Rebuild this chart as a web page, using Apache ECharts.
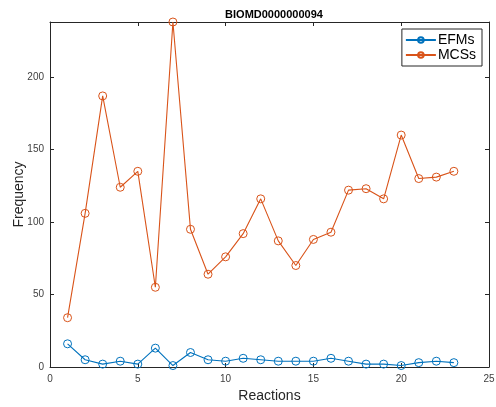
<!DOCTYPE html>
<html>
<head>
<meta charset="utf-8">
<script src="https://cdn.jsdelivr.net/npm/echarts@6/dist/echarts.min.js"></script>
<style>
  html, body { margin: 0; padding: 0; background: #fff; }
  #chart { width: 496px; height: 407px; }
</style>
</head>
<body>
<div id="chart"></div>
<script>
// Reaction indices 1..23 and per-reaction frequencies
const reactions = [1, 2, 3, 4, 5, 6, 7, 8, 9, 10, 11, 12, 13, 14, 15, 16, 17, 18, 19, 20, 21, 22, 23];
const efms = [16, 5, 2, 4, 2, 13, 1, 10, 5, 4, 6, 5, 4, 4, 4, 6, 4, 2, 2, 1, 3, 4, 3];
const mcss = [34, 106, 187, 124, 135, 55, 238, 95, 64, 76, 92, 116, 87, 70, 88, 93, 122, 123, 116, 160, 130, 131, 135];
const xTicks = [0, 5, 10, 15, 20, 25];
const yTicks = [0, 50, 100, 150, 200];

const chart = echarts.init(document.getElementById('chart'));
const axisColor = '#262626';
const font = 'Liberation Sans, Arial, Helvetica, sans-serif';

function pairs(ys) {
  return reactions.map((x, i) => [x, ys[i]]);
}

const baseX = {
  type: 'value', min: 0, max: 25, interval: 5,
  axisLine: { show: true, onZero: false, lineStyle: { color: axisColor, width: 1 } },
  axisTick: { show: true, inside: true, length: 4, lineStyle: { color: axisColor } },
  splitLine: { show: false }
};
const baseY = {
  type: 'value', min: 0, max: 238, interval: 50,
  axisLine: { show: true, onZero: false, lineStyle: { color: axisColor, width: 1 } },
  axisTick: { show: true, inside: true, length: 4, lineStyle: { color: axisColor } },
  splitLine: { show: false }
};

// hollow circle markers, the connecting line shows through them
function lineSeries(name, values, color) {
  return {
    name: name, type: 'line', data: pairs(values),
    xAxisIndex: 0, yAxisIndex: 0,
    symbol: 'circle', symbolSize: 8, z: 3,
    lineStyle: { color: color, width: 1.1 },
    itemStyle: { color: 'rgba(255,255,255,0)', borderColor: color, borderWidth: 1 }
  };
}

chart.setOption({
  animation: false,
  backgroundColor: '#ffffff',
  title: {
    text: 'BIOMD0000000094',
    left: 269, top: 4, textAlign: 'center',
    textStyle: { fontFamily: font, fontSize: 11, fontWeight: 'bold', color: '#000' }
  },
  grid: { left: 50, right: 7, top: 22, bottom: 40, containLabel: false, outerBoundsMode: 'none' },
  legend: {
    orient: 'vertical',
    right: 14, top: 29,
    data: ['EFMs', 'MCSs'],
    backgroundColor: '#fff',
    borderColor: '#262626', borderWidth: 1, borderRadius: 0,
    padding: [4, 6, 4, 3],
    itemWidth: 30, itemHeight: 7, itemGap: 1,
    textStyle: { fontFamily: font, fontSize: 14, color: '#000', padding: [0, 0, 0, -3] }
  },
  xAxis: [
    Object.assign({}, baseX, {
      position: 'bottom',
      name: 'Reactions', nameLocation: 'middle', nameGap: 22, nameMoveOverlap: false,
      nameTextStyle: { fontFamily: font, fontSize: 14, color: '#262626' },
      axisLabel: {
        fontFamily: font, fontSize: 10, color: '#404040', margin: 7,
        formatter: v => xTicks.includes(v) ? String(v) : ''
      }
    }),
    Object.assign({}, baseX, { position: 'top', axisLabel: { show: false } })
  ],
  yAxis: [
    Object.assign({}, baseY, {
      position: 'left',
      name: 'Frequency', nameLocation: 'middle', nameGap: 24, nameMoveOverlap: false,
      nameTextStyle: { fontFamily: font, fontSize: 14, color: '#262626' },
      axisLabel: {
        fontFamily: font, fontSize: 10, color: '#404040', margin: 6,
        showMaxLabel: false,
        formatter: v => yTicks.includes(v) ? String(v) : ''
      }
    }),
    Object.assign({}, baseY, { position: 'right', axisLabel: { show: false } })
  ],
  series: [
    lineSeries('EFMs', efms, '#0072BD'),
    lineSeries('MCSs', mcss, '#D95319')
  ]
});
</script>
</body>
</html>
